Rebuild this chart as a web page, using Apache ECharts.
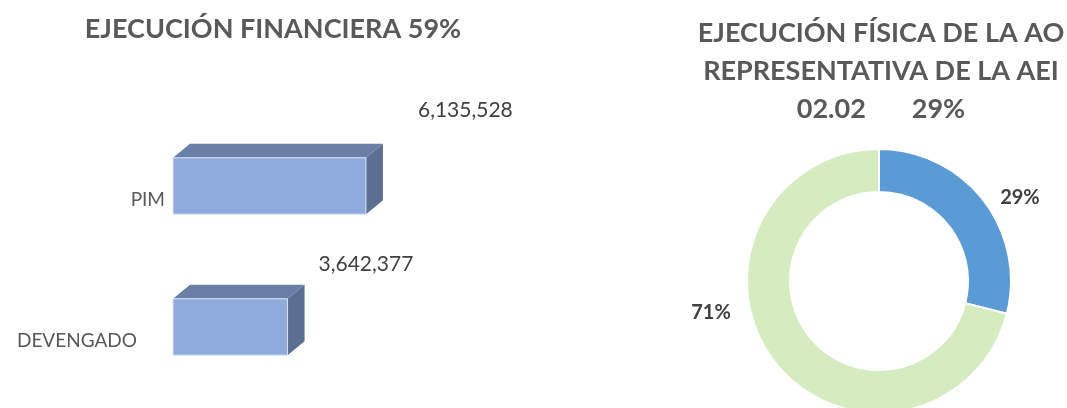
<!DOCTYPE html>
<html>
<head>
<meta charset="utf-8">
<script src="https://cdn.jsdelivr.net/npm/echarts@6/dist/echarts.min.js"></script>
<style>
  html, body { margin: 0; padding: 0; background: #fff; }
  #main { width: 1067px; height: 408px; }
</style>
</head>
<body>
<div id="main"></div>
<script>
// datos ejecucion financiera
var categorias = ['PIM', 'DEVENGADO'];
var montos = [6135528, 3642377];

// datos ejecucion fisica (%)
var tramos = ['Ejecutado', 'Por ejecutar'];
var porcentajes = [29, 71];

var FONT = 'Lato, "Open Sans", sans-serif';
var frente = '#8FAADC', tapa = '#6A7FA8', lado = '#5C6E91';
var prof = [17, -14];              // desplazamiento 3D
var etqDesp = [[52, -48], [31, -35]]; // posicion etiquetas de valor

function fmt(v) { return v.toLocaleString('en-US'); }

function barra3d(params, api) {
    var val = api.value(0), cat = api.value(1);
    var p0 = api.coord([0, cat]);
    var p1 = api.coord([val, cat]);
    var h = api.size([0, 1])[1] * 0.4;
    var x0 = p0[0], x1 = p1[0];
    var yT = p1[1] - h / 2, yB = p1[1] + h / 2;
    var dx = prof[0], dy = prof[1];
    var off = etqDesp[params.dataIndex];
    return {
        type: 'group',
        children: [
            { type: 'polygon', shape: { points: [[x0, yT], [x0 + dx, yT + dy], [x1 + dx, yT + dy], [x1, yT]] },
              style: { fill: tapa } },
            { type: 'polygon', shape: { points: [[x1, yT], [x1 + dx, yT + dy], [x1 + dx, yB + dy], [x1, yB]] },
              style: { fill: lado } },
            { type: 'rect', shape: { x: x0, y: yT, width: x1 - x0, height: h },
              style: { fill: frente, stroke: '#DCE4F2', lineWidth: 1 } },
            { type: 'text', x: x1 + off[0], y: yT + off[1],
              style: { text: fmt(val), fill: '#404040', font: '21px ' + FONT,
                       textAlign: 'left', textVerticalAlign: 'middle' } }
        ]
    };
}

var chart = echarts.init(document.getElementById('main'));
chart.setOption({
    animation: false,
    title: [
        { text: 'EJECUCIÓN FINANCIERA 59%', left: 268, top: 11, textAlign: 'center',
          textStyle: { fontFamily: FONT, fontSize: 27, fontWeight: 'bold', color: '#595959' } },
        { text: 'EJECUCIÓN FÍSICA DE LA AO\nREPRESENTATIVA DE LA AEI\n02.02       29%', left: 876, top: 9,
          textAlign: 'center',
          textStyle: { fontFamily: FONT, fontSize: 27, fontWeight: 'bold', color: '#595959', lineHeight: 38 } }
    ],
    grid: { left: 173, top: 115.5, width: 251.6, bottom: 10.5 },
    xAxis: { type: 'value', min: 0, max: 8000000, show: false },
    yAxis: {
        type: 'category', data: categorias, inverse: true,
        axisLine: { show: false }, axisTick: { show: false },
        axisLabel: {
            margin: 8, color: '#595959', fontFamily: FONT, fontSize: 19,
            formatter: function (v, i) { return '{c' + i + '|' + v + '}'; },
            rich: {
                c0: { padding: [28, 0, 0, 0], fontSize: 19, fontFamily: FONT, color: '#595959' },
                c1: { padding: [28, 28, 0, 0], fontSize: 19, fontFamily: FONT, color: '#595959' }
            }
        }
    },
    series: [
        {
            type: 'custom', renderItem: barra3d,
            encode: { x: 0, y: 1 },
            data: montos.map(function (m, i) { return [m, i]; })
        },
        {
            type: 'pie', center: [879, 281], radius: [89, 132], startAngle: 90,
            itemStyle: { borderColor: '#fff', borderWidth: 2 },
            color: ['#5B9BD5', '#D5EBC0'],
            label: { show: true, position: 'outside', formatter: '{c}%', overflow: 'none',
                     fontFamily: FONT, fontSize: 20, fontWeight: 'bold', color: '#404040' },
            labelLine: { show: false },
            labelLayout: function (p) {
                return p.dataIndex === 0 ? { dx: -30, dy: 7 } : { dx: 3, dy: -59 };
            },
            data: tramos.map(function (t, i) { return { name: t, value: porcentajes[i] }; })
        }
    ]
});
</script>
</body>
</html>
